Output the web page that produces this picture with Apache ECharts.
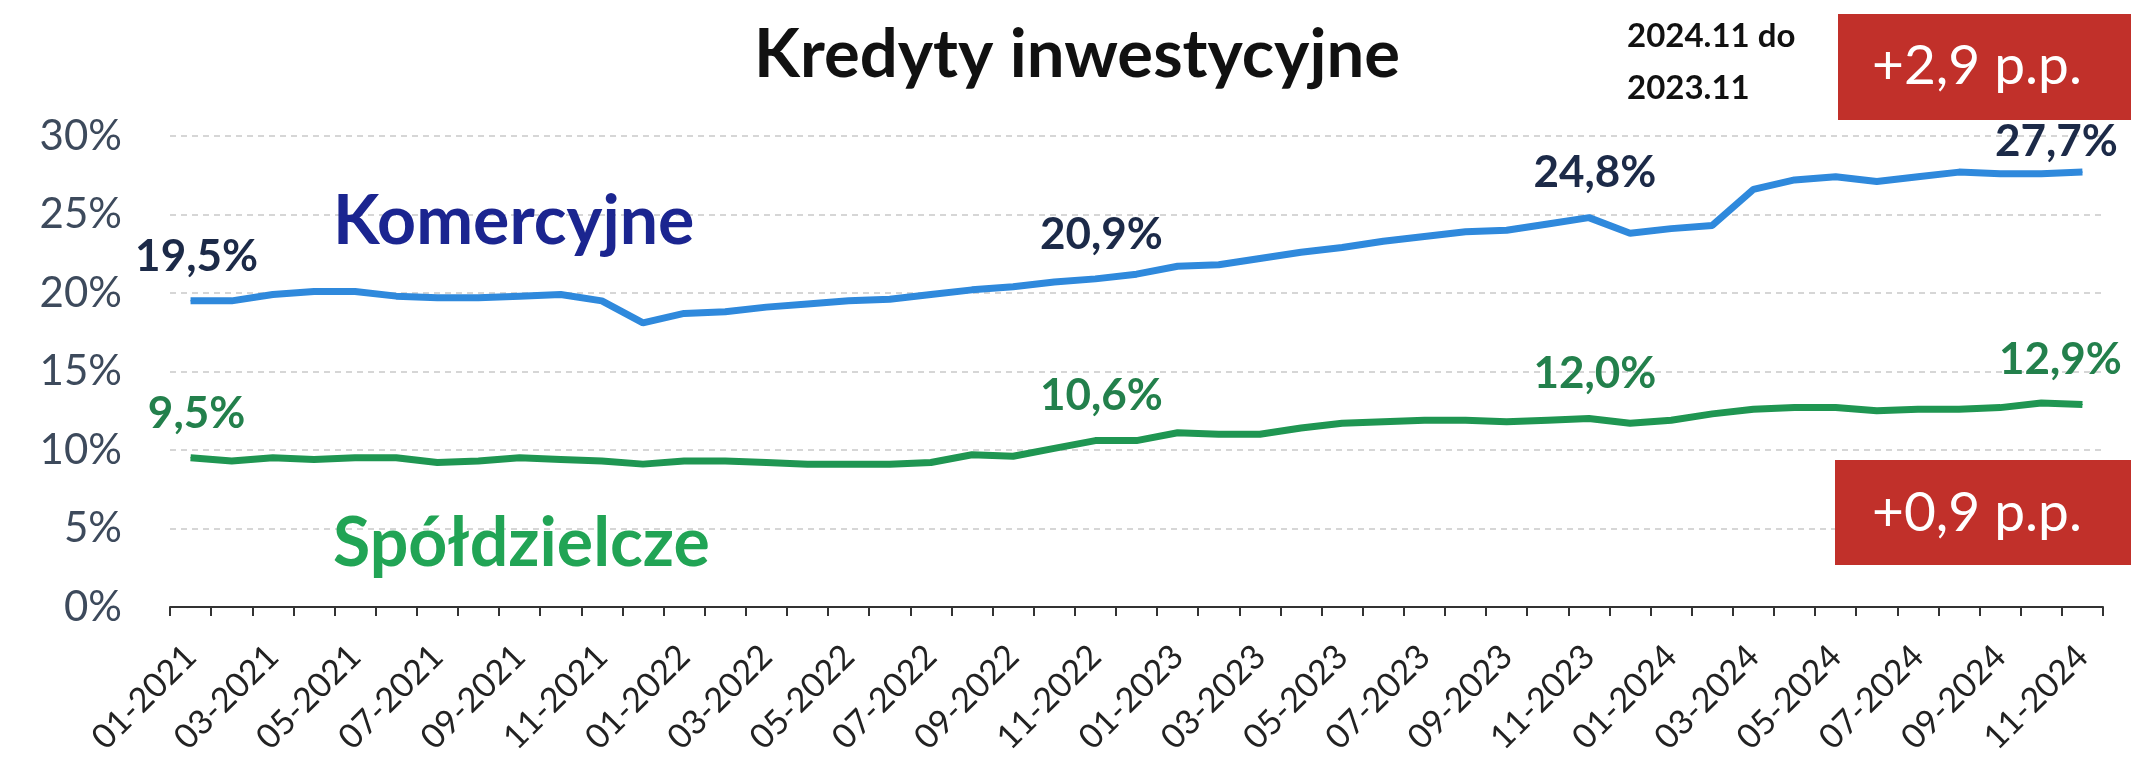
<!DOCTYPE html>
<html>
<head>
<meta charset="utf-8">
<script src="https://cdn.jsdelivr.net/npm/echarts@6/dist/echarts.min.js"></script>
<style>
  html, body { margin: 0; padding: 0; background: #ffffff; }
  #chart { width: 2131px; height: 771px; }
</style>
</head>
<body>
<div id="chart"></div>
<script>
// miesiące 01-2021 .. 11-2024
const months = [
  "01-2021", "02-2021", "03-2021", "04-2021", "05-2021", "06-2021", "07-2021", "08-2021", "09-2021", "10-2021", "11-2021", "12-2021",
  "01-2022", "02-2022", "03-2022", "04-2022", "05-2022", "06-2022", "07-2022", "08-2022", "09-2022", "10-2022", "11-2022", "12-2022",
  "01-2023", "02-2023", "03-2023", "04-2023", "05-2023", "06-2023", "07-2023", "08-2023", "09-2023", "10-2023", "11-2023", "12-2023",
  "01-2024", "02-2024", "03-2024", "04-2024", "05-2024", "06-2024", "07-2024", "08-2024", "09-2024", "10-2024", "11-2024"
];

const komercyjne = [
  19.5, 19.5, 19.9, 20.1, 20.1, 19.8, 19.7, 19.7, 19.8, 19.9, 19.5, 18.1,
  18.7, 18.8, 19.1, 19.3, 19.5, 19.6, 19.9, 20.2, 20.4, 20.7, 20.9, 21.2,
  21.7, 21.8, 22.2, 22.6, 22.9, 23.3, 23.6, 23.9, 24.0, 24.4, 24.8, 23.8,
  24.1, 24.3, 26.6, 27.2, 27.4, 27.1, 27.4, 27.7, 27.6, 27.6, 27.7
];

const spoldzielcze = [
  9.5, 9.3, 9.5, 9.4, 9.5, 9.5, 9.2, 9.3, 9.5, 9.4, 9.3, 9.1,
  9.3, 9.3, 9.2, 9.1, 9.1, 9.1, 9.2, 9.7, 9.6, 10.1, 10.6, 10.6,
  11.1, 11.0, 11.0, 11.4, 11.7, 11.8, 11.9, 11.9, 11.8, 11.9, 12.0, 11.7,
  11.9, 12.3, 12.6, 12.7, 12.7, 12.5, 12.6, 12.6, 12.7, 13.0, 12.9
];

// punkty z opisem wartości
const labelIdx = [0, 22, 34, 46];

const yTicks = [0, 5, 10, 15, 20, 25, 30];

const font = "Lato";

function pct(v) {
  return v.toFixed(1).replace(".", ",") + "%";
}

function withLabels(values, color, lastOffset) {
  return values.map(function (v, i) {
    if (labelIdx.indexOf(i) < 0) return v;
    return {
      value: v,
      label: {
        show: true,
        position: "top",
        distance: 22,
        offset: i === values.length - 1 ? lastOffset : [6, 0],
        formatter: function (p) { return pct(p.value); },
        fontFamily: font,
        fontWeight: "bold",
        fontSize: 44,
        color: color
      }
    };
  });
}

const chart = echarts.init(document.getElementById("chart"));

const option = {
  backgroundColor: "#ffffff",
  animation: false,
  grid: {
    left: 170,
    right: 28,
    top: 136,
    bottom: 164
  },
  xAxis: {
    type: "category",
    data: months,
    boundaryGap: true,
    axisLine: {
      lineStyle: { color: "#333333", width: 2 }
    },
    axisTick: {
      show: true,
      interval: 0,
      length: 9,
      lineStyle: { color: "#333333", width: 2 }
    },
    axisLabel: {
      interval: 1,
      rotate: 45,
      margin: 44,
      fontFamily: font,
      fontSize: 34,
      color: "#222222"
    }
  },
  yAxis: {
    type: "value",
    min: yTicks[0],
    max: yTicks[yTicks.length - 1],
    interval: 5,
    axisLine: { show: false },
    axisTick: { show: false },
    axisLabel: {
      margin: 48,
      fontFamily: font,
      fontSize: 42,
      color: "#3d4a5c",
      formatter: function (v) { return v + "%"; }
    },
    splitLine: {
      lineStyle: { color: "#d6d6d6", width: 2, type: [6, 5] }
    }
  },
  series: [
    {
      name: "Komercyjne",
      type: "line",
      data: withLabels(komercyjne, "#1c2a48", [-26, 14]),
      symbol: "circle",
      symbolSize: 1,
      showSymbol: true,
      itemStyle: { color: "#2f89dc" },
      lineStyle: { color: "#2f89dc", width: 7 },
      z: 3
    },
    {
      name: "Spółdzielcze",
      type: "line",
      data: withLabels(spoldzielcze, "#23804c", [-22, 0]),
      symbol: "circle",
      symbolSize: 1,
      showSymbol: true,
      itemStyle: { color: "#1f9652" },
      lineStyle: { color: "#1f9652", width: 7 },
      z: 3
    }
  ],
  graphic: [
    {
      type: "text",
      left: 754,
      top: 22,
      z: 100,
      style: {
        text: "Kredyty inwestycyjne",
        fontFamily: font,
        fontWeight: "bold",
        fontSize: 67,
        fill: "#111111"
      }
    },
    {
      type: "text",
      left: 333,
      top: 188,
      z: 100,
      style: {
        text: "Komercyjne",
        fontFamily: font,
        fontWeight: "bold",
        fontSize: 68,
        fill: "#1b2590"
      }
    },
    {
      type: "text",
      left: 333,
      top: 510,
      z: 100,
      style: {
        text: "Spółdzielcze",
        fontFamily: font,
        fontWeight: "bold",
        fontSize: 68,
        fill: "#21a455"
      }
    },
    {
      type: "text",
      left: 1627,
      top: 20,
      z: 100,
      style: {
        text: "2024.11 do",
        fontFamily: font,
        fontWeight: "bold",
        fontSize: 33,
        fill: "#111111"
      }
    },
    {
      type: "text",
      left: 1627,
      top: 72,
      z: 100,
      style: {
        text: "2023.11",
        fontFamily: font,
        fontWeight: "bold",
        fontSize: 33,
        fill: "#111111"
      }
    },
    {
      type: "rect",
      left: 1838,
      top: 14,
      z: 100,
      shape: { width: 300, height: 106 },
      style: { fill: "#c1302a" }
    },
    {
      type: "text",
      left: 1872,
      top: 39,
      z: 101,
      style: {
        text: "+2,9 p.p.",
        fontFamily: font,
        fontSize: 55,
        fill: "#ffffff"
      }
    },
    {
      type: "rect",
      left: 1835,
      top: 460,
      z: 100,
      shape: { width: 300, height: 105 },
      style: { fill: "#c1302a" }
    },
    {
      type: "text",
      left: 1872,
      top: 486,
      z: 101,
      style: {
        text: "+0,9 p.p.",
        fontFamily: font,
        fontSize: 55,
        fill: "#ffffff"
      }
    }
  ]
};

chart.setOption(option);
window.addEventListener("resize", function () {
  chart.resize();
});
</script>
</body>
</html>
